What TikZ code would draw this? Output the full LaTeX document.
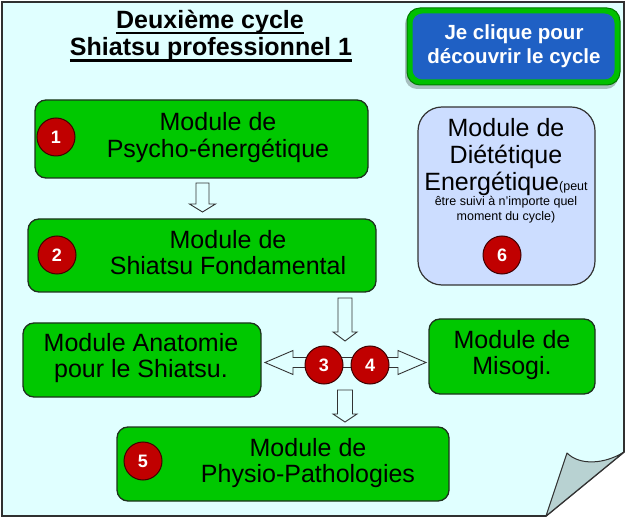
\documentclass[tikz,border=0pt]{standalone}
\usepackage{fontspec}
\setmainfont{Liberation Sans}
\usetikzlibrary{calc}
\definecolor{bgc}{HTML}{E0FFFF}
\definecolor{boxg}{HTML}{00C800}
\definecolor{boxline}{HTML}{1E321E}
\definecolor{badgec}{HTML}{C00000}
\definecolor{badgeline}{HTML}{400000}
\definecolor{lilac}{HTML}{CCDDFF}
\definecolor{btnblue}{HTML}{1F60C4}
\definecolor{btngreen}{HTML}{00C000}
\definecolor{btngreendark}{HTML}{007A00}
\definecolor{curlc}{HTML}{B8D2D2}
\definecolor{pageline}{HTML}{303030}
\tikzset{
  modbox/.style={draw=boxline, line width=1.3pt, fill=boxg, rounded corners=11pt, inner sep=0pt},
  modtext/.style={align=center, inner sep=0pt, font=\fontsize{25}{26}\selectfont},
  badgenode/.style={circle, draw=badgeline, line width=1pt, fill=badgec, minimum size=38pt, inner sep=0pt, text=white, font=\bfseries\fontsize{18}{20}\selectfont},
  blockarrow/.style={draw=black!80, line width=0.9pt, fill=bgc, line join=miter},
  titletext/.style={anchor=base, inner sep=0pt, font=\bfseries\fontsize{25}{28}\selectfont},
}
\newcommand\downblock[5]{%
  \draw[blockarrow] ($(#1)+(-#3,0)$) -- ($(#1)+(#3,0)$) -- ($(#2)+(#3,-#5)$) -- ($(#2)+(#4,-#5)$) -- (#2) -- ($(#2)+(-#4,-#5)$) -- ($(#2)+(-#3,-#5)$) -- cycle;}
\begin{document}
\begin{tikzpicture}[x=1pt,y=-1pt]
\useasboundingbox (0,0) rectangle (626,518);
% page
\draw[pageline, line width=1.6pt, fill=bgc] (2,2) -- (624,2) -- (624,452) -- (546,516) -- (2,516) -- cycle;
\draw[pageline, line width=1pt, fill=curlc, line join=round] (624,452) .. controls (605,464) and (580,466) .. (567,453) -- (546,516) -- cycle;

% title
\node[titletext] (tt1) at (210,29) {Deuxième cycle};
\node[titletext] (tt2) at (211,56) {Shiatsu professionnel 1};
\draw[line width=2.5pt] ($(tt1.base west)+(0,3.8)$) -- ($(tt1.base east)+(0,3.8)$);
\draw[line width=2.5pt] ($(tt2.base west)+(0,4.5)$) -- ($(tt2.base east)+(0,4.5)$);

% button
\fill[black, opacity=0.25, rounded corners=12pt] (405,12) rectangle (618,89);
\node[draw=btngreendark, line width=1pt, fill=btngreen, rounded corners=13pt, minimum width=213pt, minimum height=77pt, inner sep=0pt] (btn) at (513.5,46.5) {};
\node[fill=btnblue, rounded corners=10pt, minimum width=202pt, minimum height=66pt, inner sep=0pt] (btnin) at (btn.center) {};
\node[align=center, inner sep=0pt, text=white, font=\bfseries\fontsize{20.5}{23.5}\selectfont] (btntext) at (514,46.6) {\strut Je clique pour\\\strut découvrir le cycle};

% module boxes
\node[modbox, minimum width=333pt, minimum height=78pt] (b1) at (201.5,139) {};
\node[modbox, minimum width=348pt, minimum height=73pt] (b2) at (202,255.5) {};
\node[modbox, minimum width=238pt, minimum height=74pt] (ba) at (142,360) {};
\node[modbox, minimum width=166pt, minimum height=75pt] (bm) at (512,356.5) {};
\node[modbox, minimum width=332pt, minimum height=74pt] (b5) at (283,464) {};
\node[draw=black!80, line width=1.2pt, fill=lilac, rounded corners=24pt, minimum width=177pt, minimum height=178pt, inner sep=0pt] (b6) at (506.5,196) {};

\node[modtext] (t1) at (218,138.8) {\strut Module de\\\strut Psycho-énergétique};
\node[modtext] (t2) at (228,256.8) {\strut Module de\\\strut Shiatsu Fondamental};
\node[modtext] (ta) at (141,359.3) {\strut Module Anatomie\\\strut pour le Shiatsu.};
\node[modtext] (tm) at (512,356.3) {\strut Module de\\\strut Misogi.};
\node[modtext] (t5) at (308,463.8) {\strut Module de\\\strut Physio-Pathologies};
\node[align=center, inner sep=0pt, font=\fontsize{25}{27}\selectfont] (t6) at (506,158.6) {\strut Module de\\\strut Diététique\\\strut Energétique{\fontsize{12.5}{15}\selectfont(peut}};
\node[align=center, inner sep=0pt, font=\fontsize{12.5}{15}\selectfont] (t6s) at (506,210.5) {\strut être suivi à n’importe quel\\\strut moment du cycle)};

% block arrows
\coordinate (a1s) at (202.5,183);
\coordinate (a1t) at (202.5,212);
\coordinate (a2s) at (345,298);
\coordinate (a2t) at (345,341);
\coordinate (a3s) at (345,390);
\coordinate (a3t) at (345,422);
\coordinate (dl) at (265,362.5);
\coordinate (dr) at (426,362.5);
\downblock{a1s}{a1t}{6.5}{13}{8}
\downblock{a2s}{a2t}{7}{12}{9}
\downblock{a3s}{a3t}{7.5}{12}{8}
\draw[blockarrow] (dl) -- ($(dl)+(28,-12)$) -- ($(dl)+(28,-5)$) -- ($(dr)+(-28,-5)$) -- ($(dr)+(-28,-12)$) -- (dr) -- ($(dr)+(-28,12)$) -- ($(dr)+(-28,5)$) -- ($(dl)+(28,5)$) -- ($(dl)+(28,12)$) -- cycle;

% badges
\node[badgenode] (n1) at (56,137) {1};
\node[badgenode] (n2) at (57,255) {2};
\node[badgenode] (n3) at (324,365) {3};
\node[badgenode] (n4) at (370,365) {4};
\node[badgenode] (n5) at (143,461) {5};
\node[badgenode] (n6) at (502,255) {6};
\end{tikzpicture}
\end{document}
